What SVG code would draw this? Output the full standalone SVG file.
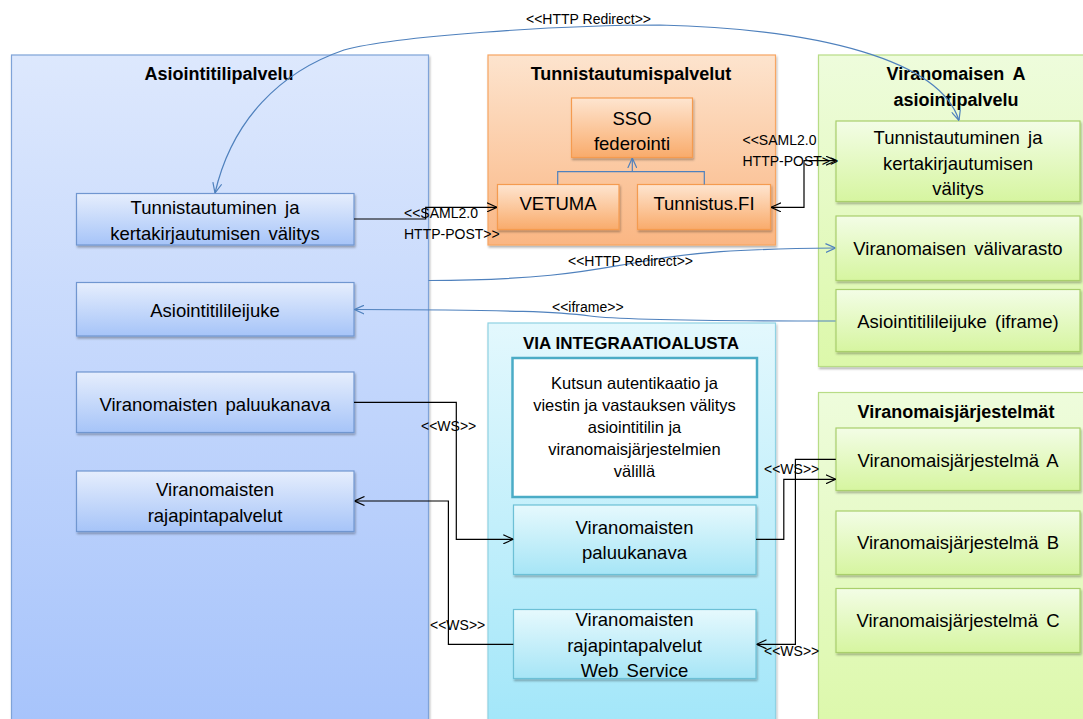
<svg xmlns="http://www.w3.org/2000/svg" width="1083" height="719" viewBox="0 0 1083 719">
<style>
.t{font-family:"Liberation Sans",Arial,sans-serif;font-size:18.5px;word-spacing:3px;fill:#000;text-anchor:middle}
.title{font-family:"Liberation Sans",Arial,sans-serif;font-size:18px;font-weight:bold;fill:#000;text-anchor:middle}
.small{font-family:"Liberation Sans",Arial,sans-serif;font-size:16.5px;fill:#000;text-anchor:middle}
.lbl{font-family:"Liberation Sans",Arial,sans-serif;font-size:14px;fill:#000}
.blk{fill:none;stroke:#000;stroke-width:1.2}
.blu{fill:none;stroke:#4f81bd;stroke-width:1.2}
</style>
<defs>
<linearGradient id="gBlueBg" x1="0" y1="0" x2="0" y2="1"><stop offset="0" stop-color="#dde8fd"/><stop offset="1" stop-color="#a6c3fb"/></linearGradient>
<linearGradient id="gBlueNode" x1="0" y1="0" x2="0" y2="1"><stop offset="0" stop-color="#e6eefd"/><stop offset="1" stop-color="#a6c4f8"/></linearGradient>
<linearGradient id="gOrBg" x1="0" y1="0" x2="0" y2="1"><stop offset="0" stop-color="#fde4ce"/><stop offset="1" stop-color="#fab683"/></linearGradient>
<linearGradient id="gOrNode" x1="0" y1="0" x2="0" y2="1"><stop offset="0" stop-color="#fee5d0"/><stop offset="1" stop-color="#f9ab6b"/></linearGradient>
<linearGradient id="gGrBg" x1="0" y1="0" x2="0" y2="1"><stop offset="0" stop-color="#eefcdc"/><stop offset="1" stop-color="#dcf8aa"/></linearGradient>
<linearGradient id="gGrNode" x1="0" y1="0" x2="0" y2="1"><stop offset="0" stop-color="#f3fde6"/><stop offset="1" stop-color="#d6f5a0"/></linearGradient>
<linearGradient id="gViaBg" x1="0" y1="0" x2="0" y2="1"><stop offset="0" stop-color="#e3f8fd"/><stop offset="1" stop-color="#a1e6f9"/></linearGradient>
<linearGradient id="gViaNode" x1="0" y1="0" x2="0" y2="1"><stop offset="0" stop-color="#e6f9fd"/><stop offset="1" stop-color="#a6e5f6"/></linearGradient>
<filter id="sh" x="-5%" y="-5%" width="110%" height="120%"><feDropShadow dx="1" dy="2" stdDeviation="1" flood-color="#000" flood-opacity="0.3"/></filter>
<marker id="aK" viewBox="0 0 10 10" refX="10" refY="5" markerWidth="10" markerHeight="10" markerUnits="userSpaceOnUse" orient="auto-start-reverse"><path d="M0,0.5 L10,5 L0,9.5" fill="none" stroke="#000" stroke-width="1.2"/></marker>
<marker id="aB" viewBox="0 0 10 10" refX="10" refY="5" markerWidth="10" markerHeight="10" markerUnits="userSpaceOnUse" orient="auto-start-reverse"><path d="M0,0.5 L10,5 L0,9.5" fill="none" stroke="#4f81bd" stroke-width="1.2"/></marker>
</defs>

<g id="asiointitilipalvelu">
<rect x="11.5" y="55" width="417" height="680" fill="url(#gBlueBg)" stroke="#7fa3d8" stroke-width="1.2" filter="url(#sh)"/>
<text class="title" x="219" y="80">Asiointitilipalvelu</text>
</g>
<g id="tunnistautumispalvelut">
<rect x="488" y="55" width="287.5" height="190" fill="url(#gOrBg)" stroke="#f7a662" stroke-width="1.2" filter="url(#sh)"/>
<text class="title" x="631" y="80">Tunnistautumispalvelut</text>
</g>
<g id="viranomaisen-a">
<rect x="818.5" y="55" width="280" height="311.5" fill="url(#gGrBg)" stroke="#b8dc86" stroke-width="1.2" filter="url(#sh)"/>
<text class="title" x="956" y="80" style="word-spacing:4px">Viranomaisen A</text>
<text class="title" x="956" y="106">asiointipalvelu</text>
</g>
<g id="via">
<rect x="488" y="323" width="287.5" height="412" fill="url(#gViaBg)" stroke="#8fd2e3" stroke-width="1.2" filter="url(#sh)"/>
<text class="title" x="631" y="348.5" style="font-size:17px">VIA INTEGRAATIOALUSTA</text>
</g>
<g id="viranomaisjarjestelmat">
<rect x="818.5" y="392.5" width="280" height="342" fill="url(#gGrBg)" stroke="#b8dc86" stroke-width="1.2" filter="url(#sh)"/>
<text class="title" x="956" y="418">Viranomaisjärjestelmät</text>
</g>

<g id="blue-tunnistautuminen">
<rect x="76.5" y="193.5" width="277.5" height="51.5" fill="url(#gBlueNode)" stroke="#7096d0" stroke-width="1.2" filter="url(#sh)"/>
<text class="t" x="215" y="213.5">Tunnistautuminen ja</text>
<text class="t" x="215" y="239.5">kertakirjautumisen välitys</text>
</g>
<g id="blue-leijuke">
<rect x="76.5" y="282.5" width="277.5" height="53.5" fill="url(#gBlueNode)" stroke="#7096d0" stroke-width="1.2" filter="url(#sh)"/>
<text class="t" x="215" y="316.5">Asiointitilileijuke</text>
</g>
<g id="blue-paluukanava">
<rect x="76.5" y="372" width="277.5" height="60.5" fill="url(#gBlueNode)" stroke="#7096d0" stroke-width="1.2" filter="url(#sh)"/>
<text class="t" x="215" y="410.5">Viranomaisten paluukanava</text>
</g>
<g id="blue-rajapinta">
<rect x="76.5" y="471" width="277.5" height="60.5" fill="url(#gBlueNode)" stroke="#7096d0" stroke-width="1.2" filter="url(#sh)"/>
<text class="t" x="215" y="495.5">Viranomaisten</text>
<text class="t" x="215" y="521.5">rajapintapalvelut</text>
</g>

<g id="sso">
<rect x="571.5" y="98" width="121" height="59.5" fill="url(#gOrNode)" stroke="#f59b50" stroke-width="1.2" filter="url(#sh)"/>
<text class="t" x="632" y="124.5">SSO</text>
<text class="t" x="632" y="149.5">federointi</text>
</g>
<g id="vetuma">
<rect x="497.5" y="184.5" width="121.5" height="45" fill="url(#gOrNode)" stroke="#f59b50" stroke-width="1.2" filter="url(#sh)"/>
<text class="t" x="558" y="209.5">VETUMA</text>
</g>
<g id="tunnistusfi">
<rect x="637.5" y="184.5" width="133" height="45" fill="url(#gOrNode)" stroke="#f59b50" stroke-width="1.2" filter="url(#sh)"/>
<text class="t" x="704" y="209.5">Tunnistus.FI</text>
</g>

<g id="green-tunnistautuminen">
<rect x="836" y="121" width="244" height="80.5" fill="url(#gGrNode)" stroke="#a9cf6c" stroke-width="1.2" filter="url(#sh)"/>
<text class="t" x="958" y="143.5">Tunnistautuminen ja</text>
<text class="t" x="958" y="169.5">kertakirjautumisen</text>
<text class="t" x="958" y="194.5">välitys</text>
</g>
<g id="green-valivarasto">
<rect x="836" y="216" width="244" height="64.5" fill="url(#gGrNode)" stroke="#a9cf6c" stroke-width="1.2" filter="url(#sh)"/>
<text class="t" x="958" y="254.5">Viranomaisen välivarasto</text>
</g>
<g id="green-iframe">
<rect x="836" y="289.5" width="244" height="62" fill="url(#gGrNode)" stroke="#a9cf6c" stroke-width="1.2" filter="url(#sh)"/>
<text class="t" x="958" y="328">Asiointitilileijuke (iframe)</text>
</g>
<g id="vj-a">
<rect x="836" y="428" width="244" height="62.5" fill="url(#gGrNode)" stroke="#a9cf6c" stroke-width="1.2" filter="url(#sh)"/>
<text class="t" x="958" y="466.5">Viranomaisjärjestelmä A</text>
</g>
<g id="vj-b">
<rect x="836" y="511" width="244" height="63.5" fill="url(#gGrNode)" stroke="#a9cf6c" stroke-width="1.2" filter="url(#sh)"/>
<text class="t" x="958" y="549">Viranomaisjärjestelmä B</text>
</g>
<g id="vj-c">
<rect x="836" y="588.5" width="244" height="64" fill="url(#gGrNode)" stroke="#a9cf6c" stroke-width="1.2" filter="url(#sh)"/>
<text class="t" x="958" y="626.5">Viranomaisjärjestelmä C</text>
</g>

<g id="via-kuvaus">
<rect x="512.5" y="358" width="244.5" height="139" fill="#fff" stroke="#4bacc6" stroke-width="2.5"/>
<text class="small" x="634.5" y="389">Kutsun autentikaatio ja</text>
<text class="small" x="634.5" y="411">viestin ja vastauksen välitys</text>
<text class="small" x="634.5" y="433">asiointitilin ja</text>
<text class="small" x="634.5" y="455">viranomaisjärjestelmien</text>
<text class="small" x="634.5" y="477">välillä</text>
</g>
<g id="via-paluukanava">
<rect x="513.5" y="505" width="242.5" height="69.5" fill="url(#gViaNode)" stroke="#6cc0d6" stroke-width="1.2" filter="url(#sh)"/>
<text class="t" x="634.5" y="534">Viranomaisten</text>
<text class="t" x="634.5" y="559">paluukanava</text>
</g>
<g id="via-rajapinta">
<rect x="513.5" y="609.5" width="242.5" height="69" fill="url(#gViaNode)" stroke="#6cc0d6" stroke-width="1.2" filter="url(#sh)"/>
<text class="t" x="634.5" y="625.5">Viranomaisten</text>
<text class="t" x="634.5" y="651.5">rajapintapalvelut</text>
<text class="t" x="634.5" y="676.5">Web Service</text>
</g>

<g id="connectors">
<path class="blu" d="M215,193 C232,120 280,72 344,50 C395,36 560,25 660,25 C820,29 940,60 959,120.5" marker-start="url(#aB)" marker-end="url(#aB)"/>
<text class="lbl" x="526" y="24">&lt;&lt;HTTP Redirect&gt;&gt;</text>
<path class="blu" d="M557.7,184.5 V171.7 H704.3 V184.5"/>
<path class="blu" d="M632.3,171.7 V158" marker-end="url(#aB)"/>
<path class="blk" d="M354,219 H425.7 V207.3 H497" marker-end="url(#aK)"/>
<text class="lbl" x="404" y="218">&lt;&lt;SAML2.0</text>
<text class="lbl" x="404" y="238.5">HTTP-POST&gt;&gt;</text>
<path class="blk" d="M771,207.3 H804 V160.7 H836" marker-start="url(#aK)" marker-end="url(#aK)"/>
<text class="lbl" x="742.5" y="145">&lt;&lt;SAML2.0</text>
<text class="lbl" x="742.5" y="166">HTTP-POST&gt;&gt;</text>
<path class="blu" d="M428.5,280.5 C560,280 600,268 640,262 C690,252 740,249 835.5,248" marker-end="url(#aB)"/>
<text class="lbl" x="568" y="266">&lt;&lt;HTTP Redirect&gt;&gt;</text>
<path class="blu" d="M835.5,321 C700,321 620,320 590,316 C560,312 520,310 354.5,309.5" marker-end="url(#aB)"/>
<text class="lbl" x="552" y="311.5">&lt;&lt;iframe&gt;&gt;</text>
<path class="blk" d="M354,402.3 H456.3 V539.3 H513.3" marker-end="url(#aK)"/>
<text class="lbl" x="421" y="431">&lt;&lt;WS&gt;&gt;</text>
<path class="blk" d="M513.3,644.3 H448.4 V501 H354.5" marker-end="url(#aK)"/>
<text class="lbl" x="430" y="630">&lt;&lt;WS&gt;&gt;</text>
<path class="blk" d="M756,539.3 H783.8 V479.3 H835.8" marker-end="url(#aK)"/>
<text class="lbl" x="764" y="474">&lt;&lt;WS&gt;&gt;</text>
<path class="blk" d="M835.8,459.3 H795.4 V644.3 H756.5" marker-end="url(#aK)"/>
<text class="lbl" x="764" y="656">&lt;&lt;WS&gt;&gt;</text>
</g>
</svg>
